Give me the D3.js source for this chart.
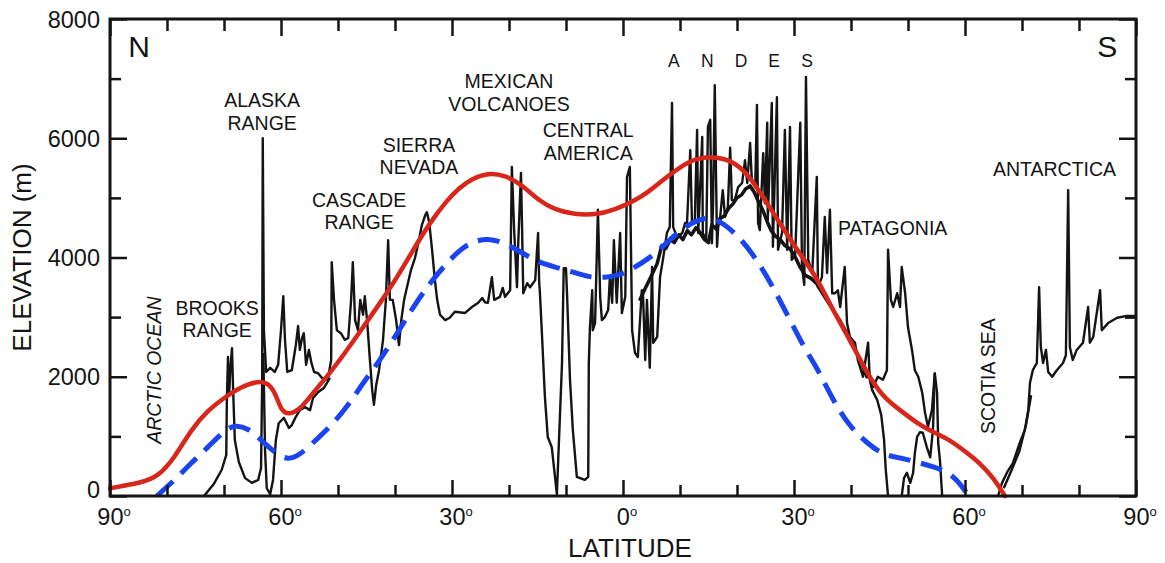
<!DOCTYPE html>
<html>
<head>
<meta charset="utf-8">
<script src="https://cdn.jsdelivr.net/npm/d3@7"></script>
<style>
  html, body { margin: 0; padding: 0; background: #fff; }
  svg { display: block; font-family: "Liberation Sans", Arial, Helvetica, sans-serif; }
</style>
</head>
<body>
<svg id="chart" width="1165" height="563"></svg>
<script>
// ---- Data: [latitude (N positive, S negative), elevation in metres] ----

// Crest-line profile along the Cordillera (black trace)
const crestProfile = [
  [73.5,0],[71.8,200],[70.4,440],[69.6,690],[69.5,1610],[69.3,2330],[69.1,1690],[68.9,2110],[68.6,2480],[68.4,1780],
  [68.1,940],[67.4,570],[66.3,300],[65.1,220],[64.0,270],[63.5,470],[63.3,1950],[63.2,6000],[63.0,2780],[62.6,2080],
  [61.9,2150],[61.1,2080],[60.5,2200],[60.0,2780],[59.6,3350],[59.3,2620],[58.9,2080],[58.1,2110],[57.4,2530],[57.0,2850],
  [56.7,2450],[56.3,2650],[56.0,2730],[55.6,2200],[55.1,2450],[54.7,2250],[54.2,2080],[53.5,2060],[52.8,1980],[51.8,1950],
  [51.2,2280],[51.1,3920],[50.7,3290],[50.2,2780],[49.5,2730],[48.8,2620],[48.2,2650],[47.7,3290],[47.4,3920],[47.0,2950],
  [46.5,2780],[46.1,3290],[45.6,3040],[45.3,3350],[44.9,2950],[44.4,2280],[44.0,1780],[43.7,1530],[43.3,1860],[42.8,2110],
  [42.1,2620],[41.6,3290],[41.2,4290],[40.9,3290],[40.4,3290],[39.8,2950],[39.3,2530],[38.9,2950],[38.4,3290],[37.9,3500],
  [37.2,3790],[36.5,3990],[35.8,4290],[35.3,4540],[34.7,4710],[34.4,4760],[34.0,4590],[33.5,4130],[33.0,3620],[32.6,3290],
  [32.1,3040],[31.2,2950],[30.4,2990],[29.5,3090],[27.7,3070],[26.5,3170],[25.4,3240],[24.7,3320],[24.2,3250],[23.7,3240],
  [23.0,3670],[22.6,3290],[21.6,3340],[21.1,3490],[20.7,3340],[19.8,3450],[19.5,5520],[19.1,4460],[18.6,3500],[18.4,4180],
  [17.9,5420],[17.7,4460],[17.5,3400],[16.8,3570],[16.3,3500],[15.4,3620],[14.9,4410],[14.7,3570],[14.6,3450],[14.2,2670],
  [13.7,1660],[13.2,990],[12.5,820],[11.6,30],[10.7,2230],[10.4,3820],[10.0,3820],[9.8,3340],[9.3,1950],[8.8,1110],
  [8.1,320],[6.7,270],[6.1,320],[6.0,2230],[5.8,2830],[5.4,3450],[5.3,2780],[4.9,2900],[4.4,4800],[4.0,3340],
  [3.7,2950],[3.2,3000],[2.6,3120],[2.3,3670],[1.9,3240],[1.6,4290],[1.1,3240],[0.5,4410],[0.2,3070],[-0.4,3340],
  [-0.7,5350],[-1.2,5520],[-1.6,2780],[-2.1,2400],[-2.6,2330],[-3.3,3450],[-3.5,3400],[-3.9,2280],[-4.2,3290],[-4.7,2150],
  [-5.1,3840],[-5.3,2570],[-6.0,2670],[-6.5,3670],[-7.0,3960],[-7.7,4410],[-8.2,4510],[-8.6,6590],[-8.8,4510],[-9.5,4340],
  [-10.4,4410],[-10.9,4580],[-11.2,4510],[-11.8,5800],[-12.1,4580],[-12.6,4630],[-13.0,6140],[-13.2,4410],[-13.9,6020],[-14.0,4410],
  [-14.6,4290],[-14.9,6190],[-15.3,6310],[-15.6,4240],[-15.8,4910],[-16.1,6890],[-16.5,4180],[-16.7,4510],[-17.0,4630],[-17.5,5130],
  [-17.9,4680],[-18.4,4850],[-18.8,5840],[-19.1,4960],[-19.6,4960],[-20.2,5180],[-20.9,5250],[-21.4,5630],[-21.8,5250],[-22.3,5920],
  [-22.6,5300],[-23.2,5180],[-23.5,6560],[-23.7,4580],[-24.0,4460],[-24.6,5750],[-24.9,4910],[-25.3,6260],[-25.4,4630],[-26.1,6590],
  [-26.3,4180],[-27.0,6690],[-27.2,4130],[-27.9,4410],[-28.4,6140],[-28.8,4130],[-29.3,6190],[-29.6,3960],[-30.2,4040],[-31.1,6260],
  [-31.4,3840],[-31.8,3540],[-32.1,7030],[-32.5,3960],[-33.2,3740],[-34.0,5350],[-34.2,3500],[-34.9,3670],[-35.4,4680],[-35.8,3740],
  [-36.3,4800],[-36.7,3400],[-37.2,3400],[-37.7,3450],[-38.1,3170],[-38.9,3840],[-39.3,2900],[-39.8,2670],[-40.7,2570],[-41.2,2280],
  [-42.1,2000],[-43.0,2570],[-43.3,1950],[-43.9,1830],[-44.7,2000],[-45.6,1950],[-46.3,2110],[-46.5,4130],[-47.0,3290],[-47.4,3170],
  [-48.1,3400],[-48.6,3170],[-48.9,3840],[-49.5,3400],[-50.0,2830],[-50.7,2450],[-51.2,2110],[-51.8,2000],[-52.5,1730],[-53.0,1390],
  [-53.5,1160],[-54.2,1440],[-54.7,2060],[-55.1,1730],[-55.3,890],[-55.6,600],[-56.0,0]
];

// Antarctic Peninsula and ice sheet
const antarcticProfile = [
  [-65.8,0],[-66.5,220],[-67.4,400],[-68.4,550],[-69.6,890],[-70.5,1110],[-71.1,1440],[-71.4,1900],[-71.9,2110],[-72.6,2230],
  [-73.0,3500],[-73.3,2500],[-73.7,2230],[-74.2,2450],[-74.6,2080],[-75.3,2000],[-76.1,2110],[-77.2,2230],[-77.7,2360],[-78.1,5130],
  [-78.4,2500],[-78.9,2280],[-79.6,2450],[-80.7,2570],[-81.6,3170],[-81.9,2570],[-82.5,2670],[-83.7,3450],[-84.0,2780],[-85.1,2900],
  [-86.7,2990],[-88.4,3020],[-90,3020]
];

// Secondary (lower) traces where the transect doubles back
const alaskaBranch = [
  [63.1,2400],[62.8,770],[62.5,130],[61.9,30],[61.4,270],[60.9,940],[60.4,1220],[59.5,1310],[58.6,1140],[58.1,1190],
  [57.5,1310],[56.7,1440],[55.8,1490],[54.9,1440],[54.4,1640],[53.5,1740],[52.5,1810],[51.4,1980]
];
const patagoniaBranchA = [[-43.3,1950],[-43.7,1780],[-44.6,1610],[-45.3,1360],[-45.8,940],[-46.1,440],[-46.5,0]];
const patagoniaBranchB = [
  [-48.9,0],[-49.3,300],[-49.8,390],[-50.4,220],[-50.9,390],[-51.2,720],[-51.6,990],[-52.1,1070],[-52.6,1060],[-53.3,820],
  [-53.9,650],[-54.2,940],[-54.4,1160],[-54.7,2060]
];
const antarcticBranch = [[-66.8,130],[-68.2,440],[-69.5,740],[-70.7,1190],[-71.6,1690]];

// Dense valley-floor band beneath the Andean peaks
const andesBase = [
  [-3.0,3300],[-4.0,3500],[-5.0,3700],[-6.0,3900],[-6.8,4200],[-7.5,4150],[-8.3,4300],[-9.0,4250],[-9.8,4380],[-10.5,4300],
  [-11.3,4450],[-12.0,4380],[-12.8,4500],[-13.5,4420],[-14.3,4300],[-15.0,4250],[-15.6,4550],[-16.3,4480],[-17.0,4650],[-17.8,4700],
  [-18.5,4820],[-19.3,4900],[-20.0,5000],[-20.8,5050],[-21.5,5150],[-22.3,5200],[-23.0,5100],[-23.7,4950],[-24.5,4800],[-25.3,4600],
  [-26.0,4450],[-26.8,4350],[-27.6,4300],[-28.4,4200],[-29.2,4150],[-30.0,4050],[-31.0,3850],[-32.0,3700],[-33.0,3650],[-34.0,3560],
  [-35.0,3400],[-36.0,3250],[-37.0,3100],[-38.0,2950],[-39.0,2780],[-40.0,2600],[-41.0,2400],[-42.0,2200],[-42.8,2000]
];

// Smoothed envelope (red) and smoothed mean (blue, dashed)
const envelopeCurve = [
  [90,130],[84.6,220],[81.6,320],[78.6,650],[75.8,1110],[72.8,1440],[69.8,1660],[67.0,1830],[64.0,1930],[62.3,1900],
  [61.0,1730],[60.0,1440],[58.8,1360],[56.7,1440],[54.4,1730],[51.4,2060],[48.4,2450],[45.6,2830],[42.6,3240],[39.6,3670],
  [36.8,4130],[33.9,4580],[30.9,4960],[28.6,5180],[26.5,5320],[23.7,5420],[20.7,5380],[17.7,5220],[14.9,4960],[11.9,4800],
  [8.9,4730],[4.9,4710],[1.4,4800],[-2.1,4960],[-4.2,5080],[-7.0,5300],[-10.0,5520],[-13.0,5670],[-15.8,5690],[-18.8,5640],
  [-21.8,5420],[-24.6,5010],[-27.5,4580],[-30.5,4130],[-34.0,3670],[-36.8,3120],[-39.8,2620],[-42.8,2060],[-45.6,1660],[-48.6,1440],
  [-51.6,1220],[-54.4,1070],[-57.4,940],[-60.4,720],[-62.6,550],[-64.9,320],[-67.0,0]
];
const meanCurve = [
  [81.8,0],[78.6,270],[75.8,550],[72.8,820],[69.8,1110],[68.1,1190],[65.8,1140],[63.5,940],[61.0,720],[58.8,600],
  [56.7,690],[54.4,890],[51.4,1160],[48.4,1490],[45.6,1900],[42.6,2280],[39.6,2730],[36.8,3170],[33.9,3570],[30.9,3910],
  [28.6,4130],[26.5,4260],[23.7,4330],[20.7,4240],[17.7,4080],[14.9,3920],[11.9,3840],[8.9,3760],[6.1,3670],[3.2,3660],
  [0.2,3710],[-2.1,3840],[-4.2,3960],[-7.0,4180],[-10.0,4460],[-13.0,4630],[-15.3,4680],[-17.5,4580],[-20.5,4340],[-23.5,3960],
  [-26.3,3510],[-29.3,2950],[-32.3,2400],[-34.0,2160],[-36.8,1610],[-39.8,1160],[-42.8,890],[-45.6,690],[-48.6,640],[-51.6,570],
  [-54.4,490],[-57.4,390],[-59.6,150],[-60.4,30]
];

// Axis ticks
const majorLat = [90, 60, 30, 0, -30, -60, -90];
const minorLat = [80, 70, 50, 40, 20, 10, -10, -20, -40, -50, -70, -80];
const majorElev = [0, 2000, 4000, 6000, 8000];
const minorElev = [1000, 3000, 5000, 7000];

// Place names, anchored at [lat, elev] of the first line's baseline
const regionLabels = [
  { lines: ["ALASKA", "RANGE"], lat: 63.3, elev: 6520, anchor: "middle" },
  { lines: ["BROOKS", "RANGE"], lat: 71.2, elev: 3040, anchor: "middle" },
  { lines: ["CASCADE", "RANGE"], lat: 46.3, elev: 4850, anchor: "middle" },
  { lines: ["SIERRA", "NEVADA"], lat: 35.8, elev: 5770, anchor: "middle" },
  { lines: ["MEXICAN", "VOLCANOES"], lat: 20.0, elev: 6840, anchor: "middle" },
  { lines: ["CENTRAL", "AMERICA"], lat: 6.1, elev: 6020, anchor: "middle" },
  { lines: ["PATAGONIA"], lat: -37.7, elev: 4380, anchor: "start" },
  { lines: ["ANTARCTICA"], lat: -64.9, elev: 5370, anchor: "start" }
];
const andesLetters = ["A", "N", "D", "E", "S"];
const andesLat = [-8.9, -14.8, -20.7, -26.5, -32.3];
const andesElev = 7190;
const seaLabels = [
  { text: "ARCTIC OCEAN", lat: 81.1, elev: 2110, italic: true },
  { text: "SCOTIA SEA", lat: -65.3, elev: 2010, italic: false }
];
const poleLabels = [
  { text: "N", lat: 86.8, elev: 7360 },
  { text: "S", lat: -83.2, elev: 7360 }
];

// ---- Layout ----
const plot = { left: 110, right: 1136, top: 19, bottom: 496 };
const ink = "#141414";

const x = d3.scaleLinear().domain([90, -90]).range([plot.left, plot.right]);
const y = d3.scaleLinear().domain([0, 8000]).range([plot.bottom, plot.top]);

const svg = d3.select("#chart");

const line = d3.line().x(d => x(d[0])).y(d => y(d[1]));
const smooth = d3.line().x(d => x(d[0])).y(d => y(d[1])).curve(d3.curveBasis);

// Andean valley-floor band (heavy, under the thin traces)
svg.append("path")
  .datum(andesBase)
  .attr("d", line)
  .attr("fill", "none")
  .attr("stroke", ink)
  .attr("stroke-width", 3.5)
  .attr("stroke-linejoin", "round")
  .attr("stroke-linecap", "round");

// Black topographic traces
const traces = [crestProfile, antarcticProfile, alaskaBranch, patagoniaBranchA, patagoniaBranchB, antarcticBranch];
svg.append("g")
  .selectAll("path")
  .data(traces)
  .join("path")
  .attr("d", line)
  .attr("fill", "none")
  .attr("stroke", ink)
  .attr("stroke-width", 2.4)
  .attr("stroke-linejoin", "round");

// Blue dashed mean
svg.append("path")
  .datum(meanCurve)
  .attr("d", smooth)
  .attr("fill", "none")
  .attr("stroke", "#1a44f2")
  .attr("stroke-width", 5)
  .attr("stroke-dasharray", "22,11");

// Red envelope
svg.append("path")
  .datum(envelopeCurve)
  .attr("d", smooth)
  .attr("fill", "none")
  .attr("stroke", "#d8261a")
  .attr("stroke-width", 4.5)
  .attr("stroke-linecap", "round");

// ---- Axes (ticks pointing inward on all four sides) ----
function styleAxis(g) {
  g.attr("font-family", null).attr("font-size", null);
  g.select(".domain").remove();
  g.selectAll(".tick line").attr("stroke", ink).attr("stroke-width", 2.5);
  g.selectAll(".tick text").attr("fill", ink);
}

const bottomMajor = svg.append("g")
  .attr("transform", `translate(0,${plot.bottom})`)
  .call(d3.axisBottom(x).tickValues(majorLat).tickSize(-16).tickPadding(12).tickFormat(d => String(Math.abs(d))))
  .call(styleAxis);
bottomMajor.selectAll(".tick text")
  .attr("font-size", 23.5)
  .attr("x", 3.5)
  .each(function () {
    d3.select(this).append("tspan").attr("dy", -9).attr("font-size", 13).text("o");
  });

svg.append("g")
  .attr("transform", `translate(0,${plot.bottom})`)
  .call(d3.axisBottom(x).tickValues(minorLat).tickSize(-11).tickFormat(""))
  .call(styleAxis);

svg.append("g")
  .attr("transform", `translate(0,${plot.top})`)
  .call(d3.axisTop(x).tickValues(majorLat).tickSize(-17).tickFormat(""))
  .call(styleAxis);
svg.append("g")
  .attr("transform", `translate(0,${plot.top})`)
  .call(d3.axisTop(x).tickValues(minorLat).tickSize(-12).tickFormat(""))
  .call(styleAxis);

const leftMajor = svg.append("g")
  .attr("transform", `translate(${plot.left},0)`)
  .call(d3.axisLeft(y).tickValues(majorElev).tickSize(-17).tickPadding(10).tickFormat(d3.format("d")))
  .call(styleAxis);
leftMajor.selectAll(".tick text")
  .attr("font-size", 23.5)
  .attr("dy", d => (d === 0 ? "0.06em" : "0.34em"));

svg.append("g")
  .attr("transform", `translate(${plot.left},0)`)
  .call(d3.axisLeft(y).tickValues(minorElev).tickSize(-11).tickFormat(""))
  .call(styleAxis);

svg.append("g")
  .attr("transform", `translate(${plot.right},0)`)
  .call(d3.axisRight(y).tickValues(majorElev).tickSize(-17).tickFormat(""))
  .call(styleAxis);
svg.append("g")
  .attr("transform", `translate(${plot.right},0)`)
  .call(d3.axisRight(y).tickValues(minorElev).tickSize(-11).tickFormat(""))
  .call(styleAxis);

// Frame
svg.append("rect")
  .attr("x", plot.left).attr("y", plot.top)
  .attr("width", plot.right - plot.left).attr("height", plot.bottom - plot.top)
  .attr("fill", "none").attr("stroke", ink).attr("stroke-width", 3);

// Axis titles
svg.append("text")
  .attr("transform", `translate(31,${(plot.top + plot.bottom) / 2}) rotate(-90)`)
  .attr("text-anchor", "middle")
  .attr("font-size", 26)
  .attr("fill", ink)
  .text("ELEVATION (m)");

svg.append("text")
  .attr("x", 630).attr("y", 557)
  .attr("text-anchor", "middle")
  .attr("font-size", 26)
  .attr("fill", ink)
  .text("LATITUDE");

// ---- Annotations ----
const labels = svg.append("g").attr("fill", ink).attr("font-size", 19.5);
regionLabels.forEach(l => {
  const t = labels.append("text")
    .attr("x", x(l.lat)).attr("y", y(l.elev))
    .attr("text-anchor", l.anchor);
  l.lines.forEach((s, i) => {
    t.append("tspan").attr("x", x(l.lat)).attr("dy", i === 0 ? 0 : 22.5).text(s);
  });
});

labels.selectAll(".andes")
  .data(andesLetters)
  .join("text")
  .attr("class", "andes")
  .attr("x", (d, i) => x(andesLat[i]))
  .attr("y", y(andesElev))
  .attr("text-anchor", "middle")
  .attr("font-size", 17.5)
  .text(d => d);

seaLabels.forEach(l => {
  labels.append("text")
    .attr("transform", `translate(${x(l.lat)},${y(l.elev)}) rotate(-90)`)
    .attr("text-anchor", "middle")
    .attr("font-size", 19.5)
    .attr("font-style", l.italic ? "italic" : "normal")
    .text(l.text);
});

poleLabels.forEach(l => {
  labels.append("text")
    .attr("x", x(l.lat)).attr("y", y(l.elev))
    .attr("font-size", 30)
    .text(l.text);
});
</script>
</body>
</html>
